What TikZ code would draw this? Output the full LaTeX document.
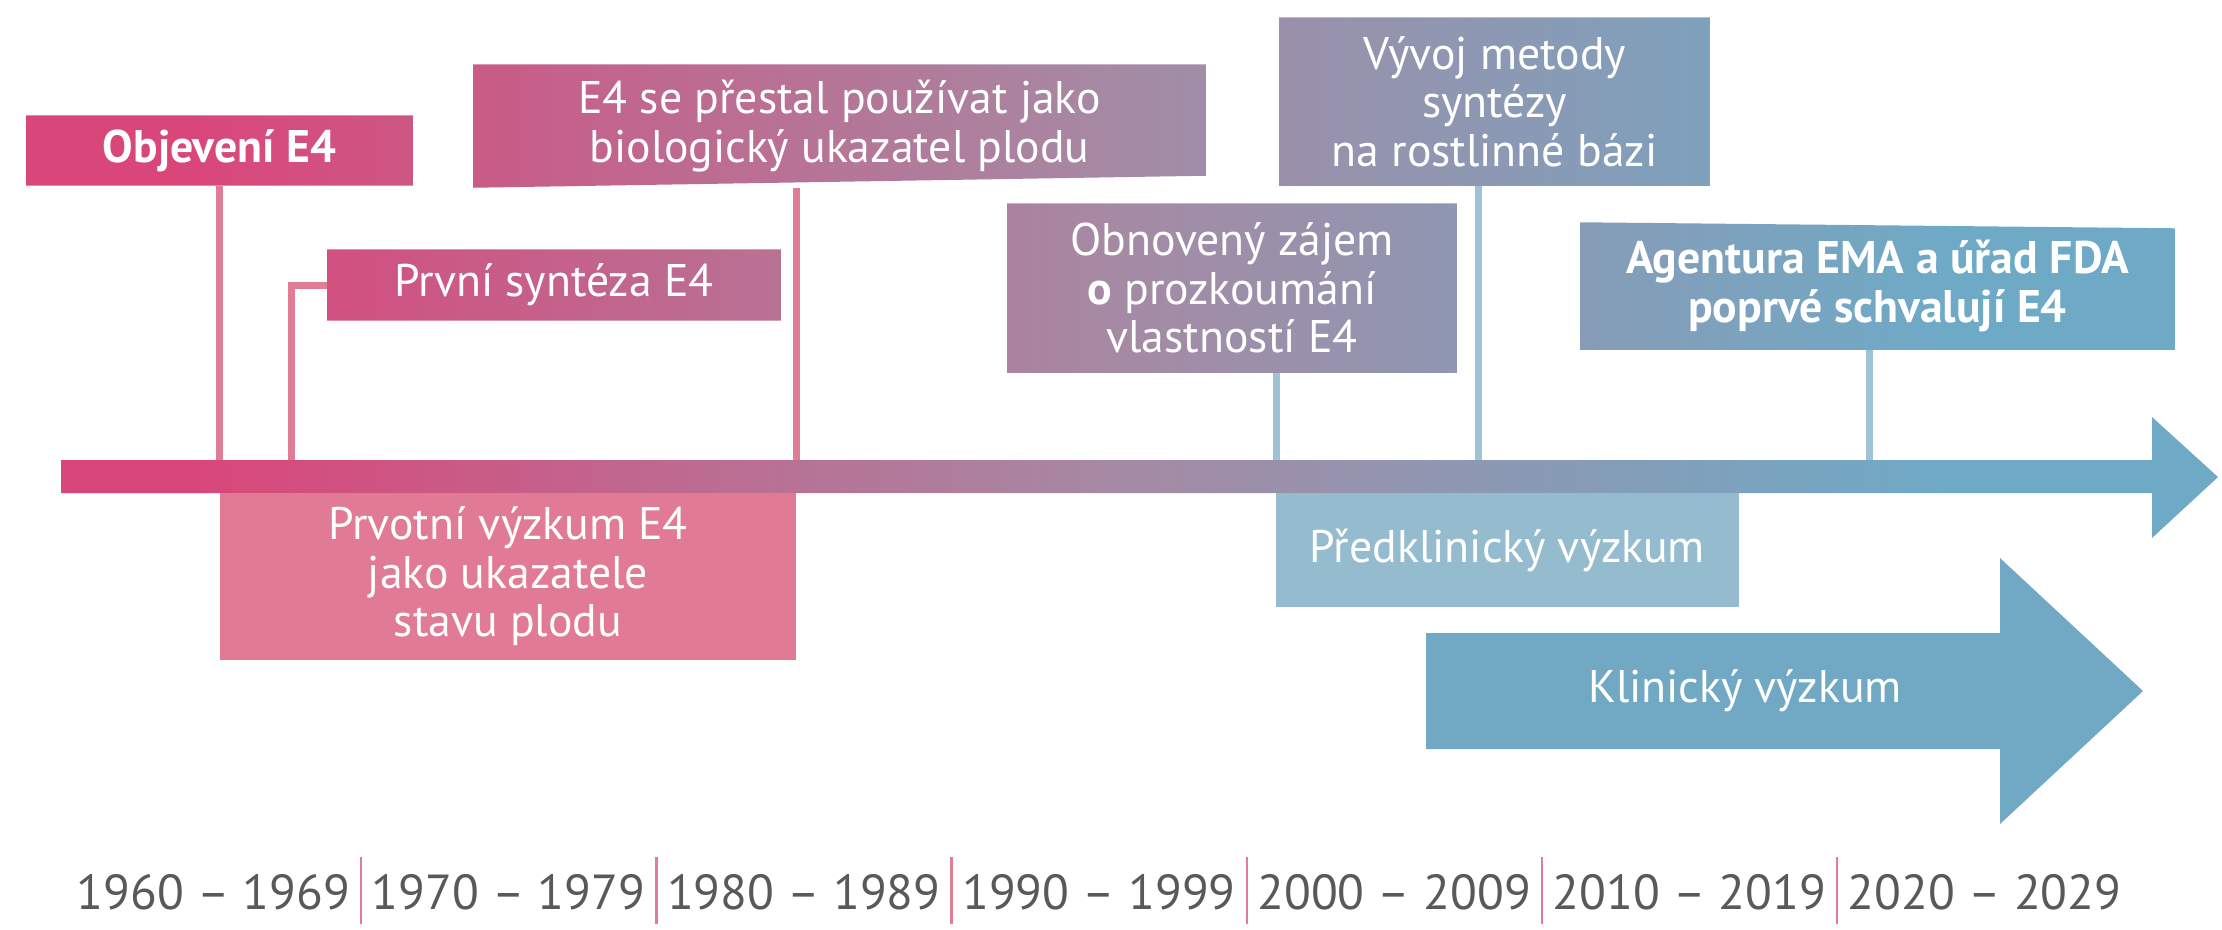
\documentclass[tikz,border=0pt]{standalone}
\usepackage{fontspec}
\setmainfont{PT Sans}
\usetikzlibrary{backgrounds}

\definecolor{tlPink}{HTML}{D9477A}
\definecolor{tlMauve}{HTML}{A58AA4}
\definecolor{tlBlue}{HTML}{6EAAC6}
\definecolor{stemPink}{HTML}{E17C97}
\definecolor{stemBlue}{HTML}{9DC3D5}
\definecolor{earlyBox}{HTML}{E17A94}
\definecolor{preBox}{HTML}{94BCCE}
\definecolor{clinArrow}{HTML}{71A9C4}
\definecolor{yearGray}{HTML}{595959}

\pgfdeclarehorizontalshading{tlgrad}{100bp}{color(0bp)=(tlPink); color(28.9bp)=(tlPink); color(50bp)=(tlMauve); color(68.9bp)=(tlBlue); color(100bp)=(tlBlue)}

\newcommand{\evfont}{\fontsize{13}{13.8}\selectfont}

\begin{document}
\begin{tikzpicture}[x=0.01cm, y=-0.01cm,
    evbox/.style={text=white, inner sep=0pt, align=center, font=\evfont},
    solidbox/.style={evbox, draw=none},
    pinkstem/.style={stemPink, line width=0.07cm},
    bluestem/.style={stemBlue, line width=0.07cm},
    yearlbl/.style={text=yearGray, font=\fontsize{14}{16}\selectfont}]
        \useasboundingbox (0,0) rectangle (2222,929);

        % 1. Events above the axis
        \node[evbox, font=\evfont\bfseries, minimum width=3.85cm, minimum height=0.69cm] (objev) at (219.5,150.5) {Objevení E4};
        \node[evbox, minimum width=4.52cm, minimum height=0.70cm] (synt) at (554,285) {První syntéza E4};
        \node[evbox, minimum width=7.31cm, minimum height=1.22cm] (stop) at (839.5,126) {E4 se přestal používat jako\\biologický ukazatel plodu};
        \node[evbox, minimum width=4.48cm, minimum height=1.68cm] (renew) at (1232,288) {Obnovený zájem\\\textbf{o} prozkoumání\\vlastností E4};
        \node[evbox, minimum width=4.29cm, minimum height=1.67cm] (plant) at (1494.5,101.5) {Vývoj metody\\syntézy\\na rostlinné bázi};
        \node[evbox, font=\evfont\bfseries, minimum width=5.93cm, minimum height=1.26cm] (approv) at (1877.5,286) {Agentura EMA a úřad FDA\\poprvé schvalují E4};

        % 2. Points on the axis
        \coordinate (t1) at (220,460);
        \coordinate (t2) at (291,460);
        \coordinate (t3) at (796,460);
        \coordinate (t4) at (1276,460);
        \coordinate (t5) at (1478,460);
        \coordinate (t6) at (1869,460);

        % 3. Gradient boxes and the axis arrow
        \begin{scope}[on background layer]
            \shade[shading=tlgrad]
                (objev.north west) rectangle (objev.south east)
                (synt.north west) rectangle (synt.south east)
                (stop.north west) -- (stop.north east) -- ([yshift=0.12cm]stop.south east) -- (stop.south west) -- cycle
                (renew.north west) rectangle (renew.south east)
                (plant.north west) rectangle (plant.south east)
                (approv.north west) -- ([yshift=-0.06cm]approv.north east) -- (approv.south east) -- (approv.south west) -- cycle
                (61,460) -- (2152,460) -- (2152,417) -- (2218,477) -- (2152,538) -- (2152,493) -- (61,493) -- cycle;
        \end{scope}

        % 4. Stems down to the axis
        \draw[pinkstem] (objev.south) -- (objev.south |- t1);
        \draw[pinkstem] (synt.west) -| (t2);
        \draw[pinkstem] (stop.south -| t3) -- (t3);
        \draw[bluestem] (renew.south -| t4) -- (t4);
        \draw[bluestem] (plant.south -| t5) -- (t5);
        \draw[bluestem] (approv.south -| t6) -- (t6);

        % 5. Research periods below the axis
        \node[solidbox, fill=earlyBox, minimum width=5.76cm, minimum height=1.67cm] (early) at (508,576.5) {Prvotní výzkum E4\\jako ukazatele\\stavu plodu};
        \node[solidbox, fill=preBox, minimum width=4.63cm, minimum height=1.14cm] (precl) at (1507.5,550) {Předklinický výzkum};
        \fill[clinArrow] (1426,633) -- (2000,633) -- (2000,558) -- (2143,691) -- (2000,824) -- (2000,749) -- (1426,749) -- cycle;
        \node[evbox] (clin) at (1745,691) {Klinický výzkum};

        % 6. Decades
        \foreach \yr [count=\i from 0] in {1960,1970,...,2020} {
            \pgfmathtruncatemacro{\yrend}{\yr+9}
            \node[yearlbl] (yr\i) at (213.4+295.2*\i,892) {\yr~–~\yrend};
        }
        \foreach \i in {1,...,6}
            \draw[stemPink, line width=0.025cm] (66+295.2*\i,857) -- (66+295.2*\i,924);

    \end{tikzpicture}
\end{document}
